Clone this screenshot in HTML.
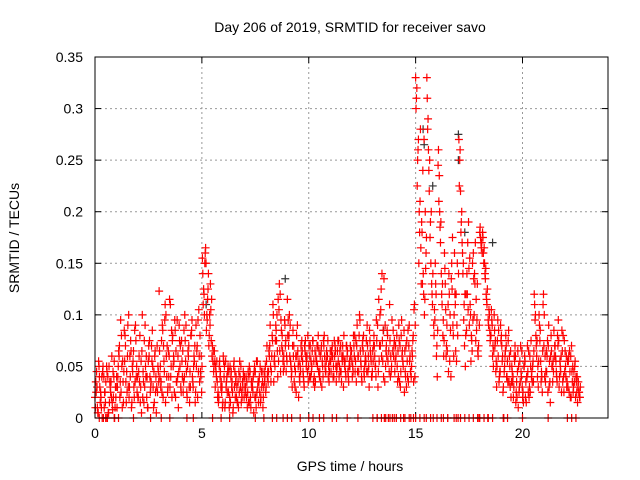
<!DOCTYPE html>
<html><head><meta charset="utf-8"><style>
body{margin:0;background:#fff}
svg{display:block;font-family:"Liberation Sans",sans-serif}
</style></head><body>
<svg id="chart" width="640" height="480">
<rect x="0" y="0" width="640" height="480" fill="#fff"/>
<g id="grid"></g>
<g id="ticks"></g>
<g id="marks"></g>
<rect x="95" y="57" width="513" height="361" fill="none" stroke="#000" stroke-width="1"/>
<text x="350" y="32" font-size="14" text-anchor="middle">Day 206 of 2019, SRMTID for receiver savo</text>
<text x="350" y="471" font-size="14" text-anchor="middle">GPS time / hours</text>
<text x="19" y="238" font-size="14" text-anchor="middle" transform="rotate(-90 19 238)">SRMTID / TECUs</text>
</svg>
<script>
const xTicks=[0,5,10,15,20];
const yTicks=[0,0.05,0.1,0.15,0.2,0.25,0.3,0.35];
const yTickLabels=["0","0.05","0.1","0.15","0.2","0.25","0.3","0.35"];
const stepHours=0.075;
const seriesA=[20,45,5,30,10,50,25,0,40,15,35,8,55,20,
30,60,95,10,45,70,25,100,40,15,65,35,50,
20,80,5,45,30,60,10,75,35,50,15,40,25,
123,30,90,55,15,70,40,110,20,60,85,35,10,50,
75,25,100,45,65,15,80,35,55,90,20,60,40,
155,120,165,95,70,130,60,45,
30,55,15,40,25,60,10,35,50,20,45,5,30,40,15,25,50,35,20,
30,10,40,20,35,5,45,25,15,50,30,20,40,
55,35,70,45,110,60,85,40,130,95,65,50,75,
115,80,55,30,70,45,60,20,50,75,40,65,55,35,
60,45,75,30,55,70,40,65,50,80,45,60,35,
55,70,40,65,50,75,45,60,30,55,70,40,50,
65,45,80,35,60,100,50,75,40,55,70,30,60,45,
80,50,0,115,70,140,40,90,60,0,75,50,85,
45,0,65,35,80,55,25,70,40,90,0,60,105,
330,225,150,280,180,120,200,
330,260,175,130,0,95,60,
245,200,140,80,160,60,0,120,40,175,100,65,150,
270,220,170,95,50,140,190,110,75,160,130,85,60,
180,165,175,150,120,0,100,
80,60,100,45,75,35,90,55,0,65,40,85,30,
50,20,70,35,10,55,40,25,60,15,45,30,75,50,
120,80,40,100,55,25,70,35,60,90,15,50,45,
70,40,95,55,25,80,45,60,30,65,20,50,35,40,15,25];
const seriesB=[35,10,50,25,0,40,15,45,5,30,60,20,10,40,
50,20,80,35,55,15,90,30,65,45,20,75,40,
60,30,100,15,50,40,70,25,55,10,65,30,45,
40,75,20,95,60,30,115,50,80,25,65,40,90,30,
40,85,55,20,70,30,95,50,15,65,45,80,25,
110,150,85,125,100,75,55,65,
45,20,50,30,10,40,55,25,45,15,35,50,20,30,10,40,25,45,30,
20,45,15,35,25,50,10,30,40,20,35,45,25,
40,65,50,80,35,75,100,55,120,70,45,90,60,
95,60,40,85,50,25,65,40,70,55,30,60,45,70,
40,65,55,35,70,45,60,30,75,50,65,40,55,
65,40,60,35,75,50,45,70,55,40,65,50,60,
40,70,55,90,45,65,35,80,55,45,60,75,40,55,
60,95,30,70,125,55,0,65,80,45,60,0,70,
70,50,90,30,60,0,45,75,35,60,50,80,40,
310,260,180,130,240,100,160,
280,220,150,110,80,130,40,
210,170,110,60,130,90,45,100,150,80,120,55,0,
250,190,140,70,120,170,90,55,150,100,75,130,0,
175,160,150,135,110,90,75,
95,50,70,30,60,45,80,25,50,70,35,60,20,
35,60,15,45,25,70,30,50,20,40,65,25,45,35,
95,60,30,75,45,110,40,65,25,55,80,35,60,
55,80,30,45,65,25,50,35,60,20,45,30,55,25,35,20];
const seriesC=[10,30,55,15,40,0,25,50,5,35,20,45,0,30,
40,70,25,55,85,35,60,20,75,50,30,90,25,
45,15,65,35,90,20,55,40,70,30,60,5,50,
65,35,85,45,100,25,60,40,75,55,20,95,45,70,
55,35,75,25,60,45,85,30,70,50,95,35,60,
140,100,150,115,80,105,70,50,
50,35,20,45,30,55,15,40,25,50,30,10,45,20,35,55,15,30,40,
40,25,50,10,30,45,20,55,35,15,45,30,50,
70,45,90,60,100,50,75,115,65,85,55,95,45,
80,100,50,70,35,60,90,55,45,65,35,75,60,50,
70,50,35,65,55,80,45,70,40,60,55,75,45,
45,60,75,50,65,40,70,55,80,45,60,35,70,
55,80,45,70,60,95,40,65,50,75,45,85,55,65,
70,40,90,55,105,75,135,50,85,65,40,95,60,
55,80,40,70,95,50,65,30,85,55,40,75,110,
300,250,200,165,130,270,145,
310,240,190,120,90,150,70,
260,185,120,95,145,70,110,55,135,90,160,120,80,
225,180,160,110,80,120,145,100,65,135,170,95,70,
185,170,160,140,115,95,85,
105,70,85,55,95,40,75,60,45,80,55,35,65,
45,30,60,20,50,35,65,15,55,40,25,60,40,55,
110,70,50,90,35,65,100,45,75,30,60,50,85,
60,35,75,50,85,40,65,30,55,45,70,25,50,35,30,20];
const seriesD=[25,5,40,20,45,10,35,0,50,25,15,40,30,10,
65,35,50,15,80,45,30,60,10,55,85,40,20,
35,55,20,75,40,10,60,30,85,45,25,70,35,
50,25,70,110,40,65,30,85,50,95,35,60,75,25,
65,40,90,50,30,80,40,60,25,70,105,45,50,
125,160,100,140,90,115,65,55,
40,25,55,35,15,50,30,45,10,40,25,55,35,15,45,30,20,40,25,
35,15,45,30,40,20,55,35,25,45,10,35,30,
45,60,35,75,55,90,65,105,45,80,60,70,55,
70,90,45,60,30,80,50,35,60,45,70,50,80,40,
55,75,40,60,50,65,35,55,70,45,60,50,65,
60,50,70,45,55,65,35,60,50,70,45,55,65,
50,60,75,45,80,55,70,45,60,90,50,65,40,70,
50,75,45,100,60,85,35,70,55,110,45,65,75,
60,35,75,45,65,85,40,55,70,45,65,35,90,
320,270,210,190,140,115,175,
290,250,200,140,105,120,85,
235,190,130,75,105,65,140,85,125,60,110,90,140,
260,200,150,120,85,105,155,80,95,140,115,65,90,
170,180,165,145,125,105,80,
90,65,75,50,85,45,70,30,60,40,75,50,35,
40,55,25,65,30,45,20,50,35,70,20,50,35,65,
100,75,55,85,40,120,60,45,70,35,65,55,70,
45,70,40,60,35,75,40,55,25,60,35,45,20,40,25,30];
const zeroHours=[0.2,0.5,0.9,1.1,1.8,2.6,3.1,3.5,4.3,4.6,5.5,5.9,6.3,7.5,7.9,8.3,8.5,8.8,9.0,9.2,9.6,10.0,10.2,10.5,10.7,11.1,11.3,11.8,12.3,13.0,13.2,13.4,13.6,13.8,14.0,14.1,14.3,14.5,14.7,14.9,15.0,15.2,15.4,15.5,15.7,16.0,16.2,16.3,16.5,16.8,16.9,17.1,17.3,17.5,17.7,17.9,18.0,18.2,18.4,18.6,19.1,19.3,20.0,21.2,22.1,22.3,22.5];
const blackHours=[15.35,15.4,17.0,17.0,8.9,15.8,17.3,18.6,13.5,5.2];
const blackValues=[0.28,0.265,0.275,0.25,0.135,0.225,0.18,0.17,0.085,0.11];

const X0=95,X1=608,Y0=418,Y1=57,XMAX=24,YMAX=0.35;
function xs(t){return X0+(X1-X0)*t/XMAX;}
function ys(v){return Y0-(Y0-Y1)*v/YMAX;}
const NS="http://www.w3.org/2000/svg";
const grid=document.getElementById('grid'),ticks=document.getElementById('ticks'),marks=document.getElementById('marks');
function el(tag,attrs,parent){const e=document.createElementNS(NS,tag);for(const k in attrs)e.setAttribute(k,attrs[k]);parent.appendChild(e);return e;}
xTicks.forEach(t=>{
  const x=xs(t);
  if(t>0){const g=el('line',{x1:x,x2:x,y1:Y1,y2:Y0,stroke:'#999','stroke-dasharray':'2,3'},grid);
  
  }
  const lb=el('text',{x:x,y:Y0+20,'font-size':14,'text-anchor':'middle'},ticks);lb.textContent=t;
  
  
  el('line',{x1:x,x2:x,y1:Y0,y2:Y0-6,stroke:'#000'},ticks);
  el('line',{x1:x,x2:x,y1:Y1,y2:Y1+6,stroke:'#000'},ticks);
});
yTicks.forEach((v,i)=>{
  const y=ys(v);
  if(v>0&&v<YMAX){const g=el('line',{x1:X0,x2:X1,y1:y,y2:y,stroke:'#999','stroke-dasharray':'2,3'},grid);
  
  }
  const lb=el('text',{x:83,y:y+5,'font-size':14,'text-anchor':'end'},ticks);lb.textContent=yTickLabels[i];
  
  
  el('line',{x1:X0,x2:X0+6,y1:y,y2:y,stroke:'#000'},ticks);
  el('line',{x1:X1,x2:X1-6,y1:y,y2:y,stroke:'#000'},ticks);
});
function plus(t,v,color,name){
  const x=xs(t),y=ys(v);
  const p=el('path',{d:`M${x-4} ${y}H${x+4}M${x} ${y-4}V${y+4}`,stroke:color,'stroke-width':1.2,fill:'none'},marks);
  
  
}
blackHours.forEach((t,i)=>plus(t,blackValues[i],'#333','black-point'));
seriesA.forEach((v,i)=>plus(i*stepHours,v/1000,'#ff0000','srmtid-point'));
seriesB.forEach((v,i)=>plus(i*stepHours+stepHours/2,v/1000,'#ff0000','srmtid-point'));
seriesC.forEach((v,i)=>plus(i*stepHours+stepHours/4,v/1000,'#ff0000','srmtid-point'));
seriesD.forEach((v,i)=>plus(i*stepHours+3*stepHours/4,v/1000,'#ff0000','srmtid-point'));
zeroHours.forEach(t=>plus(t,0,'#ff0000','zero-point'));
</script>
</body></html>
